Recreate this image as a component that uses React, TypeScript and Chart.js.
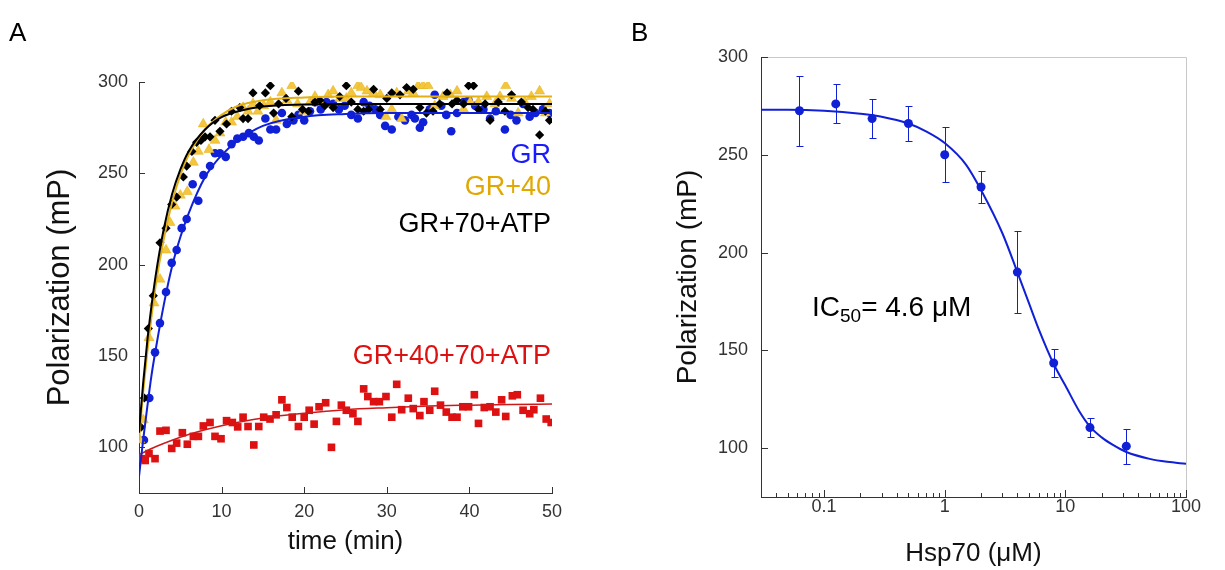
import React, { useEffect, useRef } from 'react';
import { Chart, registerables } from 'chart.js';

Chart.register(...registerables);

const FONT = '"Liberation Sans", Arial, Helvetica, sans-serif';

// ---------- Panel A : polarization vs time ----------
const A_X_TICKS = [0, 10, 20, 30, 40, 50];
const A_Y_TICKS = [100, 150, 200, 250, 300];
const SERIES_NAMES = ['GR', 'GR+40', 'GR+70+ATP', 'GR+40+70+ATP'];

const GR_T = [0.6, 1.25, 1.94, 2.54, 3.27, 3.96, 4.56, 5.17, 5.77, 6.5, 7.18, 7.8, 8.6, 9.2, 9.8, 10.5, 11.2, 11.9, 12.6, 13.3, 13.9, 14.5, 15.3, 15.9, 16.6, 17.3, 17.9, 18.7, 19.3, 20.0, 20.7, 21.3, 22.0, 22.7, 23.5, 24.2, 24.9, 25.7, 26.5, 27.2, 27.9, 28.6, 29.2, 29.8, 30.6, 31.4, 32.2, 33.0, 33.4, 34.0, 34.4, 35.2, 35.8, 36.6, 37.2, 37.8, 38.5, 39.3, 39.9, 40.7, 41.7, 42.5, 43.2, 44.3, 45.0, 45.7, 46.5, 47.3, 48.0, 48.9, 49.7];
const GR_V = [104, 127, 152, 168, 185, 201, 208, 220, 225, 244, 235, 249, 254, 261, 261, 259, 266, 269, 270, 272, 270, 268, 280, 274, 274, 283, 277, 279, 282, 279, 284, 289, 285, 289, 288, 285, 287, 282, 280, 289, 287, 285, 282, 276, 274, 281, 279, 282, 280, 275, 278, 285, 293, 287, 282, 273, 283, 289, 290, 287, 285, 280, 284, 274, 282, 279, 288, 281, 283, 285, 283];

const GR40_T = [0.1, 0.52, 1.21, 1.82, 2.54, 3.27, 3.75, 4.36, 5.0, 5.85, 6.58, 7.18, 7.78, 8.47, 9.2, 9.8, 10.5, 11.2, 11.9, 12.6, 13.2, 13.8, 14.4, 15.1, 15.9, 16.6, 17.3, 17.9, 18.5, 19.2, 19.9, 20.7, 21.3, 21.9, 22.9, 23.5, 24.3, 25.1, 25.7, 26.5, 26.9, 27.6, 28.4, 29.2, 29.9, 30.6, 31.2, 31.8, 32.6, 33.2, 33.8, 34.4, 35.0, 35.8, 36.8, 37.7, 38.5, 39.3, 40.1, 41.1, 42.1, 43.1, 43.7, 44.4, 45.1, 45.9, 46.7, 47.5, 48.5, 49.2, 49.7];
const GR40_V = [104, 115, 160, 179, 192, 208, 223, 232, 238, 240, 256, 262, 277, 263, 268, 272, 278, 278, 281, 286, 284, 288, 284, 287, 289, 279, 294, 290, 298, 288, 284, 289, 292, 289, 293, 295, 291, 291, 294, 298, 297, 295, 294, 293, 281, 285, 294, 280, 295, 294, 298, 298, 298, 287, 292, 293, 295, 285, 289, 289, 292, 288, 292, 298, 291, 283, 289, 292, 295, 283, 288];

const GR70_T = [0.25, 0.65, 1.13, 1.73, 2.54, 3.27, 3.96, 4.56, 5.37, 5.77, 6.4, 6.98, 7.5, 8.0, 8.6, 9.2, 9.8, 10.6, 11.2, 12.2, 12.6, 13.2, 13.8, 14.6, 15.3, 15.9, 16.3, 16.9, 17.8, 18.5, 19.3, 19.8, 20.5, 21.3, 21.9, 22.5, 23.5, 24.3, 25.1, 25.7, 26.5, 27.2, 27.8, 28.4, 29.2, 30.0, 30.6, 31.6, 32.4, 33.2, 34.0, 34.8, 35.6, 36.4, 37.3, 37.9, 38.5, 39.3, 39.9, 40.5, 41.1, 41.9, 42.5, 43.5, 44.3, 45.1, 46.3, 47.1, 47.7, 48.5, 49.2, 49.7];
const GR70_V = [111, 127, 165, 183, 212, 220, 233, 237, 248, 254, 262, 267, 268, 270, 270, 279, 273, 277, 284, 286, 280, 280, 294, 287, 294, 298, 283, 288, 291, 281, 295, 285, 284, 289, 290, 287, 286, 292, 298, 289, 285, 284, 285, 296, 285, 291, 294, 293, 297, 296, 286, 283, 284, 288, 294, 288, 290, 288, 298, 298, 285, 288, 279, 289, 284, 293, 289, 286, 285, 271, 284, 279];

const GR4070_T = [0.33, 0.75, 1.21, 1.94, 2.54, 3.27, 3.96, 4.56, 5.25, 5.85, 6.58, 7.19, 7.79, 8.6, 9.2, 9.93, 10.6, 11.3, 11.95, 12.6, 13.2, 13.9, 14.5, 15.1, 15.86, 16.6, 17.3, 17.9, 18.55, 19.3, 20.0, 20.6, 21.2, 21.8, 22.6, 23.3, 23.9, 24.5, 25.1, 25.9, 26.5, 27.2, 27.7, 28.4, 29.1, 29.9, 30.6, 31.2, 31.8, 32.6, 33.2, 34.0, 34.5, 35.2, 35.8, 36.5, 37.2, 37.9, 38.5, 39.2, 39.9, 40.6, 41.1, 41.8, 42.5, 43.2, 43.9, 44.4, 45.2, 45.8, 46.5, 47.3, 47.8, 48.6, 49.3, 49.9];
const GR4070_V = [93.8, 92.8, 96.6, 93.8, 108.9, 109.3, 99.4, 102.3, 108, 101.7, 106, 106, 111.7, 113.6, 106, 104.7, 114.6, 113.6, 111.2, 116.5, 111.4, 101.3, 111.4, 116.5, 115.5, 117.8, 126, 121.8, 116.5, 111.4, 116.5, 120.3, 112.7, 122.2, 124.4, 100, 114.2, 123.1, 120.3, 118.4, 114.2, 132, 127.8, 125, 125, 127.8, 116.5, 134.5, 120.6, 126.9, 121.2, 117.4, 125, 120.3, 130.7, 123.1, 119.3, 116.5, 116.5, 122.2, 122.2, 128.8, 113.1, 121.8, 122.2, 119.3, 126, 116.9, 128.2, 128.8, 120.3, 118.4, 120.6, 126.9, 115.5, 113.6];

// fitted curves
const FIT_T = [0, 0.5, 1, 1.5, 2, 3, 4, 5, 6, 8, 10, 12, 15, 20, 25, 30, 40, 50];
const GR_FIT = [84, 104, 122, 139, 153, 178, 199, 215, 228, 248, 260, 268, 276, 281, 282.5, 283, 283, 283];
const GR40_FIT = [104, 130, 152, 171, 188, 214, 234, 249, 260, 274, 282, 287, 290, 291.5, 292, 292, 292, 292];
const GR70_FIT = [108, 135, 158, 177, 193.5, 219.5, 238.5, 252, 262, 274, 280.8, 284, 286.6, 287.7, 288, 288, 288, 288];
const RED_FIT_T = [0, 2, 4, 6, 8, 10, 13, 16, 20, 25, 30, 35, 40, 45, 50];
const GR4070_FIT = [96, 100.3, 103.9, 107, 109.6, 111.8, 114.5, 116.7, 118.7, 120.6, 121.7, 122.6, 123.1, 123.5, 123.7];

// ---------- Panel B : titration ----------
const B_X_TICKS = [0.1, 1, 10, 100];
const B_Y_TICKS = [100, 150, 200, 250, 300];
const HSP70_CONC = [0.0625, 0.125, 0.25, 0.5, 1, 2, 4, 8, 16, 32];
const HSP70_POL = [272.5, 276, 268.5, 266, 250, 233.5, 190, 143.5, 110.5, 101];
const HSP70_SD = [18, 10, 10, 9, 14, 8, 21, 7, 5, 9];
const B_FIT_X = [0.03, 0.05, 0.1, 0.2, 0.3, 0.5, 0.7, 1, 1.5, 2, 3, 4, 5, 6, 8, 10, 13, 16, 20, 25, 32, 50, 70, 100];
const B_FIT_Y = [273, 273, 272.5, 271, 269.5, 266, 262, 256, 245, 232, 210, 190, 174, 161, 143, 132, 119, 111, 105.5, 101.5, 98, 94.5, 93, 92];

const BLUE = '#1020d6';
const GOLD = '#f4c63e';
const GOLD_LINE = '#e2b015';
const RED = '#dd1111';

const pts = (xs: number[], ys: number[]) => xs.map((x, i) => ({ x, y: ys[i] }));

const innerTicks = (len: number, box: boolean, minorX: number[] = []) => ({
  id: 'innerTicks',
  afterDraw(chart: any) {
    const { ctx, chartArea: a } = chart;
    const xs = chart.scales.x;
    const ys = chart.scales.y;
    ctx.save();
    ctx.lineWidth = 1;
    if (box) {
      ctx.strokeStyle = '#c8c8c8';
      ctx.beginPath();
      ctx.moveTo(a.left + 1, a.top + 0.5);
      ctx.lineTo(a.right + 0.5, a.top + 0.5);
      ctx.lineTo(a.right + 0.5, a.bottom);
      ctx.stroke();
    }
    ctx.strokeStyle = '#333';
    ctx.beginPath();
    ys.ticks.forEach((t: any) => {
      const p = Math.round(ys.getPixelForValue(t.value)) + 0.5;
      ctx.moveTo(a.left, p);
      ctx.lineTo(a.left + len, p);
    });
    xs.ticks.forEach((t: any) => {
      const p = Math.round(xs.getPixelForValue(t.value)) + 0.5;
      ctx.moveTo(p, a.bottom);
      ctx.lineTo(p, a.bottom - len);
    });
    minorX.forEach((v) => {
      const p = Math.round(xs.getPixelForValue(v)) + 0.5;
      ctx.moveTo(p, a.bottom);
      ctx.lineTo(p, a.bottom - 4);
    });
    ctx.stroke();
    ctx.restore();
  },
});

const textA = {
  id: 'textA',
  afterDraw(chart: any) {
    const { ctx, chartArea: a } = chart;
    ctx.save();
    ctx.textBaseline = 'alphabetic';
    ctx.textAlign = 'right';
    ctx.font = `27px ${FONT}`;
    const colors = ['#1a1aff', '#e0a800', '#000', RED];
    const baselines = [163, 195, 231.5, 364];
    SERIES_NAMES.forEach((n, i) => {
      ctx.fillStyle = colors[i];
      ctx.fillText(n, a.right - 1, baselines[i]);
    });
    ctx.textAlign = 'left';
    ctx.fillStyle = '#000';
    ctx.font = `26px ${FONT}`;
    ctx.fillText('A', 9, 41);
    ctx.restore();
  },
};

const textB = {
  id: 'textB',
  afterDraw(chart: any) {
    const { ctx } = chart;
    ctx.save();
    ctx.textBaseline = 'alphabetic';
    ctx.textAlign = 'left';
    ctx.fillStyle = '#000';
    ctx.font = `26px ${FONT}`;
    ctx.fillText('B', 31, 41);
    let x = 212;
    ctx.font = `28px ${FONT}`;
    ctx.fillText('IC', x, 316);
    x += ctx.measureText('IC').width;
    ctx.font = `19px ${FONT}`;
    ctx.fillText('50', x, 322);
    x += ctx.measureText('50').width;
    ctx.font = `28px ${FONT}`;
    ctx.fillText('= 4.6 μM', x, 316);
    ctx.restore();
  },
};

const errorBars = {
  id: 'errorBars',
  afterDatasetsDraw(chart: any) {
    const { ctx } = chart;
    const xs = chart.scales.x;
    const ys = chart.scales.y;
    ctx.save();
    ctx.strokeStyle = BLUE;
    ctx.lineWidth = 1;
    HSP70_CONC.forEach((c, i) => {
      const px = Math.round(xs.getPixelForValue(c)) + 0.5;
      const top = Math.round(ys.getPixelForValue(HSP70_POL[i] + HSP70_SD[i])) + 0.5;
      const bot = Math.round(ys.getPixelForValue(HSP70_POL[i] - HSP70_SD[i])) + 0.5;
      ctx.beginPath();
      ctx.moveTo(px, top);
      ctx.lineTo(px, bot);
      ctx.moveTo(px - 3, top);
      ctx.lineTo(px + 4, top);
      ctx.moveTo(px - 3, bot);
      ctx.lineTo(px + 4, bot);
      ctx.stroke();
    });
    ctx.restore();
  },
};

const tickFont = { family: FONT, size: 18, lineHeight: 1 };

function makeA(canvas: HTMLCanvasElement) {
  return new Chart(canvas, {
    type: 'scatter',
    data: {
      datasets: [
        { label: 'GR fit', data: pts(FIT_T, GR_FIT), showLine: true, pointRadius: 0, borderColor: BLUE, borderWidth: 2, cubicInterpolationMode: 'monotone', order: 2 } as any,
        { label: 'GR+40 fit', data: pts(FIT_T, GR40_FIT), showLine: true, pointRadius: 0, borderColor: GOLD_LINE, borderWidth: 2, cubicInterpolationMode: 'monotone', order: 1 },
        { label: 'GR+70+ATP fit', data: pts(FIT_T, GR70_FIT), showLine: true, pointRadius: 0, borderColor: '#000', borderWidth: 2, cubicInterpolationMode: 'monotone', order: 0 },
        { label: 'GR+40+70+ATP fit', data: pts(RED_FIT_T, GR4070_FIT), showLine: true, pointRadius: 0, borderColor: '#cc1a1a', borderWidth: 1.5, cubicInterpolationMode: 'monotone', order: 3 },
        { label: SERIES_NAMES[2], data: pts(GR70_T, GR70_V), pointStyle: 'rectRot', pointRadius: 4.6, pointBackgroundColor: '#000', pointBorderWidth: 0, order: 4 },
        { label: SERIES_NAMES[1], data: pts(GR40_T, GR40_V), pointStyle: 'triangle', pointRadius: 5.8, pointBackgroundColor: GOLD, pointBorderColor: GOLD_LINE, pointBorderWidth: 0.5, order: 5 },
        { label: SERIES_NAMES[0], data: pts(GR_T, GR_V), pointStyle: 'circle', pointRadius: 4.3, pointBackgroundColor: BLUE, pointBorderWidth: 0, order: 6 },
        { label: SERIES_NAMES[3], data: pts(GR4070_T, GR4070_V), pointStyle: 'rect', pointRadius: 5.4, pointBackgroundColor: RED, pointBorderWidth: 0, order: 7 },
      ],
    },
    options: {
      animation: false,
      responsive: false,
      layout: { padding: { top: 82, right: 48, left: 0, bottom: 0 } },
      plugins: { legend: { display: false }, tooltip: { enabled: false } },
      scales: {
        x: {
          type: 'linear',
          min: 0,
          max: 50,
          afterBuildTicks: (s: any) => { s.ticks = A_X_TICKS.map((v) => ({ value: v })); },
          afterFit: (s: any) => { s.height = 77; },
          ticks: { font: tickFont, color: '#333', padding: 10, maxRotation: 0, autoSkip: false },
          grid: { display: true, drawOnChartArea: false, drawTicks: false },
          border: { display: true, color: '#333', width: 1 },
          title: { display: true, text: 'time (min)', font: { family: FONT, size: 26 }, color: '#111', padding: { top: 0, bottom: 13 } },
        },
        y: {
          type: 'linear',
          min: 75,
          max: 300,
          afterBuildTicks: (s: any) => { s.ticks = A_Y_TICKS.map((v) => ({ value: v })); },
          afterFit: (s: any) => { s.width = 139; },
          ticks: { font: tickFont, color: '#333', padding: 11, autoSkip: false },
          grid: { display: true, drawOnChartArea: false, drawTicks: false },
          border: { display: true, color: '#333', width: 1 },
          title: { display: true, text: 'Polarization (mP)', font: { family: FONT, size: 31 }, color: '#111', padding: { top: 42, bottom: 0 } },
        },
      },
    },
    plugins: [innerTicks(6, false), textA],
  } as any);
}

function makeB(canvas: HTMLCanvasElement) {
  const minor: number[] = [];
  [0.01, 0.1, 1, 10].forEach((d) => {
    for (let k = 2; k <= 9; k++) {
      const v = d * k;
      if (v > 0.03 && v < 100) minor.push(v);
    }
  });
  return new Chart(canvas, {
    type: 'scatter',
    data: {
      datasets: [
        { label: 'fit', data: pts(B_FIT_X, B_FIT_Y), showLine: true, pointRadius: 0, borderColor: BLUE, borderWidth: 2, cubicInterpolationMode: 'monotone', order: 1 },
        { label: 'Hsp70', data: pts(HSP70_CONC, HSP70_POL), pointStyle: 'circle', pointRadius: 4.5, pointBackgroundColor: BLUE, pointBorderWidth: 0, order: 0 },
      ],
    },
    options: {
      animation: false,
      responsive: false,
      layout: { padding: { top: 57, right: 39, left: 0, bottom: 0 } },
      plugins: { legend: { display: false }, tooltip: { enabled: false } },
      scales: {
        x: {
          type: 'logarithmic',
          min: 0.03,
          max: 100,
          afterBuildTicks: (s: any) => { s.ticks = B_X_TICKS.map((v) => ({ value: v })); },
          afterFit: (s: any) => { s.height = 73; },
          ticks: { font: tickFont, color: '#333', padding: 1, maxRotation: 0, autoSkip: false, callback: (v: any) => String(v) },
          grid: { display: true, drawOnChartArea: false, drawTicks: false },
          border: { display: true, color: '#333', width: 1 },
          title: { display: true, text: 'Hsp70 (μM)', font: { family: FONT, size: 26 }, color: '#111', padding: { top: 0, bottom: 1 } },
        },
        y: {
          type: 'linear',
          min: 75,
          max: 300,
          afterBuildTicks: (s: any) => { s.ticks = B_Y_TICKS.map((v) => ({ value: v })); },
          afterFit: (s: any) => { s.width = 161; },
          ticks: { font: tickFont, color: '#333', padding: 13, autoSkip: false },
          grid: { display: true, drawOnChartArea: false, drawTicks: false },
          border: { display: true, color: '#333', width: 1 },
          title: { display: true, text: 'Polarization (mP)', font: { family: FONT, size: 28 }, color: '#111', padding: { top: 71, bottom: 0 } },
        },
      },
    },
    plugins: [innerTicks(7, true, minor), errorBars, textB],
  } as any);
}

export default function App() {
  const refA = useRef<HTMLCanvasElement>(null);
  const refB = useRef<HTMLCanvasElement>(null);
  useEffect(() => {
    const a = makeA(refA.current!);
    const b = makeB(refB.current!);
    return () => {
      a.destroy();
      b.destroy();
    };
  }, []);
  return (
    <div style={{ position: 'fixed', left: 0, top: 0, width: 1225, height: 570, background: '#fff' }}>
      <canvas ref={refA} width={600} height={570} style={{ position: 'absolute', left: 0, top: 0, width: 600, height: 570 }} />
      <canvas ref={refB} width={625} height={570} style={{ position: 'absolute', left: 600, top: 0, width: 625, height: 570 }} />
    </div>
  );
}
